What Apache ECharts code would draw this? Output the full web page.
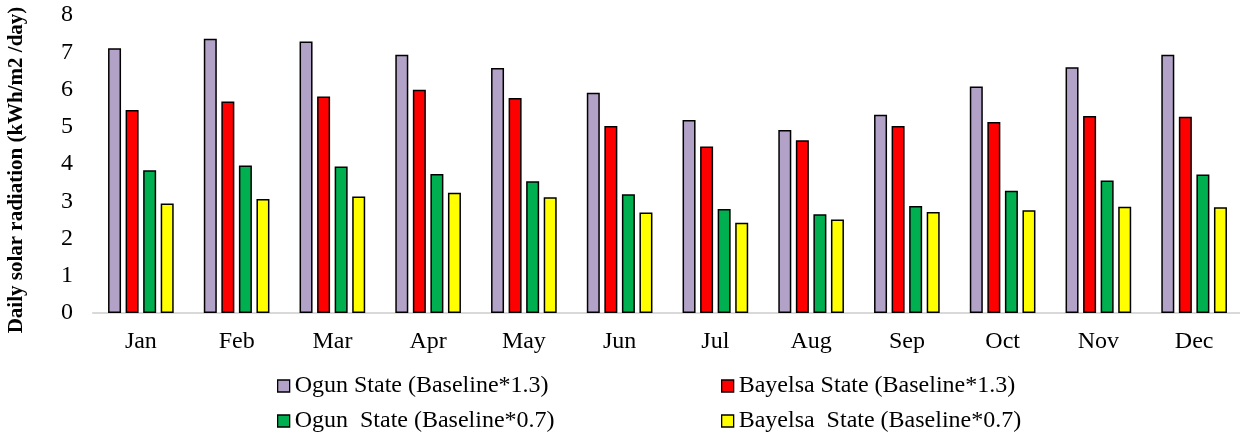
<!DOCTYPE html>
<html>
<head>
<meta charset="utf-8">
<script src="https://cdn.jsdelivr.net/npm/echarts@6/dist/echarts.min.js"></script>
<style>
  html, body { margin: 0; padding: 0; background: #ffffff; }
  #chart { width: 1240px; height: 434px; }
</style>
</head>
<body>
<div id="chart"></div>
<script>
// Monthly daily solar radiation (kWh/m2/day) under scaled baselines
const months = ['Jan', 'Feb', 'Mar', 'Apr', 'May', 'Jun', 'Jul', 'Aug', 'Sep', 'Oct', 'Nov', 'Dec'];
const ogunHigh    = [7.11, 7.36, 7.29, 6.93, 6.58, 5.91, 5.18, 4.91, 5.32, 6.08, 6.60, 6.93];
const bayelsaHigh = [5.45, 5.68, 5.81, 5.99, 5.77, 5.02, 4.47, 4.64, 5.02, 5.13, 5.29, 5.27];
const ogunLow     = [3.83, 3.96, 3.93, 3.73, 3.54, 3.19, 2.79, 2.65, 2.87, 3.28, 3.56, 3.72];
const bayelsaLow  = [2.94, 3.06, 3.13, 3.23, 3.11, 2.70, 2.42, 2.51, 2.71, 2.76, 2.85, 2.84];
const yTicks = [0, 1, 2, 3, 4, 5, 6, 7, 8];

const seriesNames = [
  'Ogun State (Baseline*1.3)',
  'Bayelsa State (Baseline*1.3)',
  'Ogun  State (Baseline*0.7)',
  'Bayelsa  State (Baseline*0.7)'
];
const seriesData = [ogunHigh, bayelsaHigh, ogunLow, bayelsaLow];
const seriesColors = ['#B3A2C7', '#FF0000', '#00B050', '#FFFF00'];

const serif = '"Liberation Serif", "Times New Roman", serif';

const chart = echarts.init(document.getElementById('chart'), null, { renderer: 'canvas' });

// one legend per entry so the 2x2 layout lines up in columns
const legendPos = [
  { left: 277, top: 374 },
  { left: 721, top: 374 },
  { left: 277, top: 409 },
  { left: 721, top: 409 }
];
const legends = seriesNames.map((name, i) => ({
  data: [name],
  left: legendPos[i].left,
  top: legendPos[i].top,
  padding: 0,
  itemWidth: 12,
  itemHeight: 12,
  icon: 'rect',
  selectedMode: false,
  itemStyle: { borderColor: '#000', borderWidth: 1.3 },
  textStyle: { fontFamily: serif, fontSize: 24, color: '#000' }
}));

chart.setOption({
  animation: false,
  backgroundColor: '#ffffff',
  legend: legends,
  grid: {
    left: 93, width: 1149, top: 15, height: 298,
    containLabel: false,
    outerBoundsMode: 'none'
  },
  xAxis: {
    type: 'category',
    data: months,
    axisLine: { show: true, lineStyle: { color: '#D9D9D9', width: 2 } },
    axisTick: { show: false },
    axisLabel: { fontFamily: serif, fontSize: 24, color: '#000', margin: 17 }
  },
  yAxis: {
    type: 'value',
    min: yTicks[0],
    max: yTicks[yTicks.length - 1],
    interval: 1,
    name: 'Daily solar radiation (kWh/m2 /day)',
    nameLocation: 'middle',
    nameGap: 66,
    nameTextStyle: {
      fontFamily: serif, fontSize: 21, fontWeight: 'bold', color: '#000',
      padding: [0, 12, 0, 0]
    },
    axisLine: { show: false },
    axisTick: { show: false },
    splitLine: { show: false },
    axisLabel: { fontFamily: serif, fontSize: 24, color: '#000', margin: 20 }
  },
  series: seriesNames.map((name, i) => ({
    name: name,
    type: 'bar',
    data: seriesData[i],
    barWidth: 13,
    barGap: '35%',
    itemStyle: { color: seriesColors[i], borderColor: '#000', borderWidth: 1.5 }
  }))
});
</script>
</body>
</html>
